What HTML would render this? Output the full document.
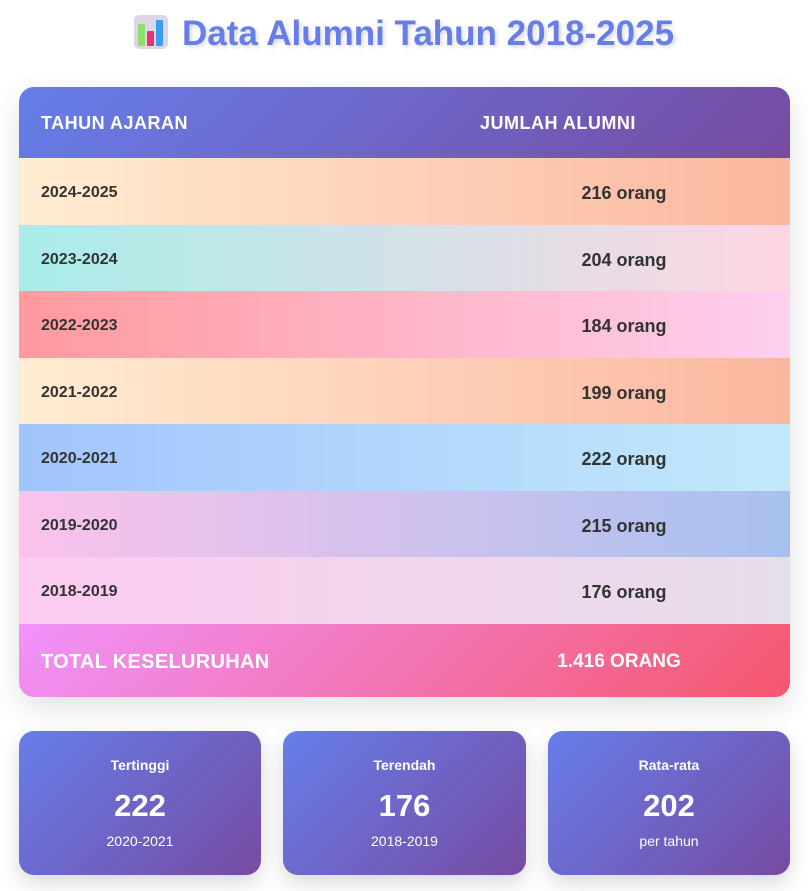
<!DOCTYPE html>
<html><head><meta charset="utf-8"><style>
*{margin:0;padding:0;box-sizing:border-box}
body{width:808px;height:891px;background:#fff;font-family:"Liberation Sans",sans-serif;position:relative;overflow:hidden}
h1{position:absolute;top:12px;left:0;width:808px;text-align:center;font-size:35px;font-weight:bold;color:#667eea;text-shadow:2px 2px 4px rgba(0,0,0,0.15);line-height:44px}
.ic{display:inline-block;width:34px;height:34px;border-radius:5px;background:#ddd6e6;vertical-align:-4px;margin-right:14px;position:relative}
.ic i{position:absolute;bottom:3px;width:7px;border-radius:1px}
.tbl{position:absolute;left:19px;top:87px;width:771px;height:610px;border-radius:15px;overflow:hidden;box-shadow:0 10px 30px rgba(0,0,0,0.12)}
.r{position:absolute;left:0;width:771px;font-weight:bold;color:#333}
.r .a{position:absolute;left:22px;font-size:16px}
.r .b{position:absolute;left:505px;width:200px;text-align:center;font-size:18px}
.hd{top:0;height:71px;background:linear-gradient(135deg,#667eea,#764ba2);color:#fff}
.hd .a,.hd .b{top:26px;font-size:18px;letter-spacing:0.5px}
.hd .b{left:461px;width:auto;text-align:left}
.d{height:66.5px}
.d .a{top:26px}.d .b{top:25px}
.tot{top:537px;height:73px;background:linear-gradient(135deg,#f093fb,#f5576c);color:#fff}
.tot .a{top:27px;font-size:20px;letter-spacing:0.3px}.tot .b{top:27px;font-size:19px;left:500px}
.card{position:absolute;top:731px;height:144px;width:242px;border-radius:15px;background:linear-gradient(135deg,#667eea,#764ba2);color:#fff;text-align:center;box-shadow:0 8px 20px rgba(0,0,0,0.15)}
.card .t{margin-top:26px;font-size:14px;font-weight:bold}
.card .n{margin-top:15px;font-size:31px;font-weight:bold;line-height:36px}
.card .s{margin-top:9px;font-size:14px}
</style></head><body>
<h1><span class="ic"><i style="left:4px;height:22px;background:#8ee06a"></i><i style="left:13px;height:15px;background:#e8336e"></i><i style="left:22px;height:26px;background:#3a9ef0"></i></span>Data Alumni Tahun 2018-2025</h1>
<div class="tbl">
<div class="r hd"><span class="a">TAHUN AJARAN</span><span class="b">JUMLAH ALUMNI</span></div>
<div class="r d" style="top:71px;background:linear-gradient(90deg,#ffecd2,#fcb69f)"><span class="a">2024-2025</span><span class="b">216 orang</span></div>
<div class="r d" style="top:137.5px;background:linear-gradient(90deg,#a8edea,#fed6e3)"><span class="a">2023-2024</span><span class="b">204 orang</span></div>
<div class="r d" style="top:204px;background:linear-gradient(90deg,#ff9a9e,#fecfef)"><span class="a">2022-2023</span><span class="b">184 orang</span></div>
<div class="r d" style="top:270.5px;background:linear-gradient(90deg,#ffecd2,#fcb69f)"><span class="a">2021-2022</span><span class="b">199 orang</span></div>
<div class="r d" style="top:337px;background:linear-gradient(90deg,#a1c4fd,#c2e9fb)"><span class="a">2020-2021</span><span class="b">222 orang</span></div>
<div class="r d" style="top:403.5px;background:linear-gradient(90deg,#fbc2eb,#a6c1ee)"><span class="a">2019-2020</span><span class="b">215 orang</span></div>
<div class="r d" style="top:470px;background:linear-gradient(90deg,#fdcbf1,#e6dee9)"><span class="a">2018-2019</span><span class="b">176 orang</span></div>
<div class="r tot"><span class="a">TOTAL KESELURUHAN</span><span class="b">1.416 ORANG</span></div>
</div>
<div class="card" style="left:19px"><div class="t">Tertinggi</div><div class="n">222</div><div class="s">2020-2021</div></div>
<div class="card" style="left:283px;width:243px"><div class="t">Terendah</div><div class="n">176</div><div class="s">2018-2019</div></div>
<div class="card" style="left:548px"><div class="t">Rata-rata</div><div class="n">202</div><div class="s">per tahun</div></div>
</body></html>
